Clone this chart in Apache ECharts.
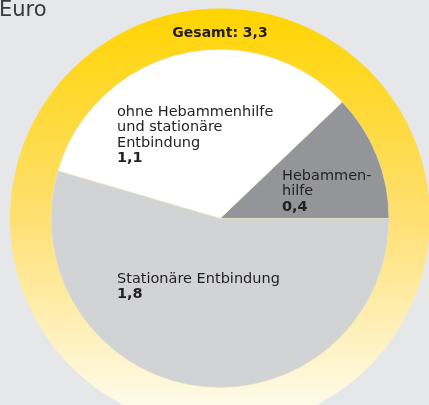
<!DOCTYPE html>
<html>
<head>
<meta charset="utf-8">
<script src="https://cdn.jsdelivr.net/npm/echarts@6/dist/echarts.min.js"></script>
<style>
  html, body { margin: 0; padding: 0; background: #e6e7e8; }
  #chart { width: 429px; height: 405px; }
</style>
</head>
<body>
<div id="chart"></div>
<script>
// Anteile in Euro (Reihenfolge gegen den Uhrzeigersinn ab 3 Uhr)
var categories = ['Hebammen-\nhilfe', 'ohne Hebammenhilfe\nund stationäre\nEntbindung', 'Stationäre Entbindung'];
var values = [0.4, 1.1, 1.8];
var sliceColors = ['#939598', '#ffffff', '#d1d3d4'];
var unitLabel = 'Euro';
var totalLabel = 'Gesamt: ';

var total = values.reduce(function (a, b) { return a + b }, 0);
var fmt = function (v) { return v.toFixed(1).replace('.', ',') };

// Label-Positionen (links oben) je Segment
var labelPos = [[282, 168], [117, 104], [117, 271]];

var center = [220, 218.5];

var chart = echarts.init(document.getElementById('chart'));
chart.setOption({
    backgroundColor: '#e6e7e8',
    animation: false,
    graphic: [
        {
            type: 'text', left: -1, top: 0, z: 100,
            style: { text: unitLabel, fontSize: 21, fontFamily: 'DejaVu Sans', fill: '#3a3a3a' }
        },
        {
            type: 'text', x: center[0], y: 33, z: 100,
            style: {
                text: totalLabel + fmt(total), fontSize: 14, fontWeight: 'bold', fontFamily: 'DejaVu Sans',
                fill: '#231f20', align: 'center', verticalAlign: 'middle'
            }
        }
    ],
    series: [
        {
            // gelber Ring
            type: 'pie',
            center: center,
            radius: [168, 210],
            silent: true,
            z: 1,
            label: { show: false },
            labelLine: { show: false },
            data: [{
                value: total,
                itemStyle: {
                    color: new echarts.graphic.LinearGradient(0, 0, 0, 1, [
                        { offset: 0, color: '#ffd400' },
                        { offset: 0.5, color: '#fee072' },
                        { offset: 1, color: '#fffef8' }
                    ])
                }
            }]
        },
        {
            type: 'pie',
            center: center,
            radius: [0, 169],
            startAngle: 0,
            clockwise: false,
            silent: true,
            z: 2,
            itemStyle: { borderWidth: 0.6, borderColor: '#ede6c8' },
            label: {
                show: true,
                position: 'inside',
                formatter: function (p) { return '{n|' + p.name + '}\n{v|' + fmt(p.value) + '}' },
                rich: {
                    n: { fontSize: 14.5, fontFamily: 'DejaVu Sans', color: '#231f20', lineHeight: 15.5 },
                    v: { fontSize: 14.5, fontWeight: 'bold', fontFamily: 'DejaVu Sans', color: '#231f20', lineHeight: 15.5 }
                }
            },
            labelLayout: function (params) {
                var p = labelPos[params.dataIndex];
                return { x: p[0], y: p[1], align: 'left', verticalAlign: 'top' };
            },
            data: categories.map(function (c, i) {
                return { name: c, value: values[i], itemStyle: { color: sliceColors[i] } };
            })
        }
    ]
});
</script>
</body>
</html>
